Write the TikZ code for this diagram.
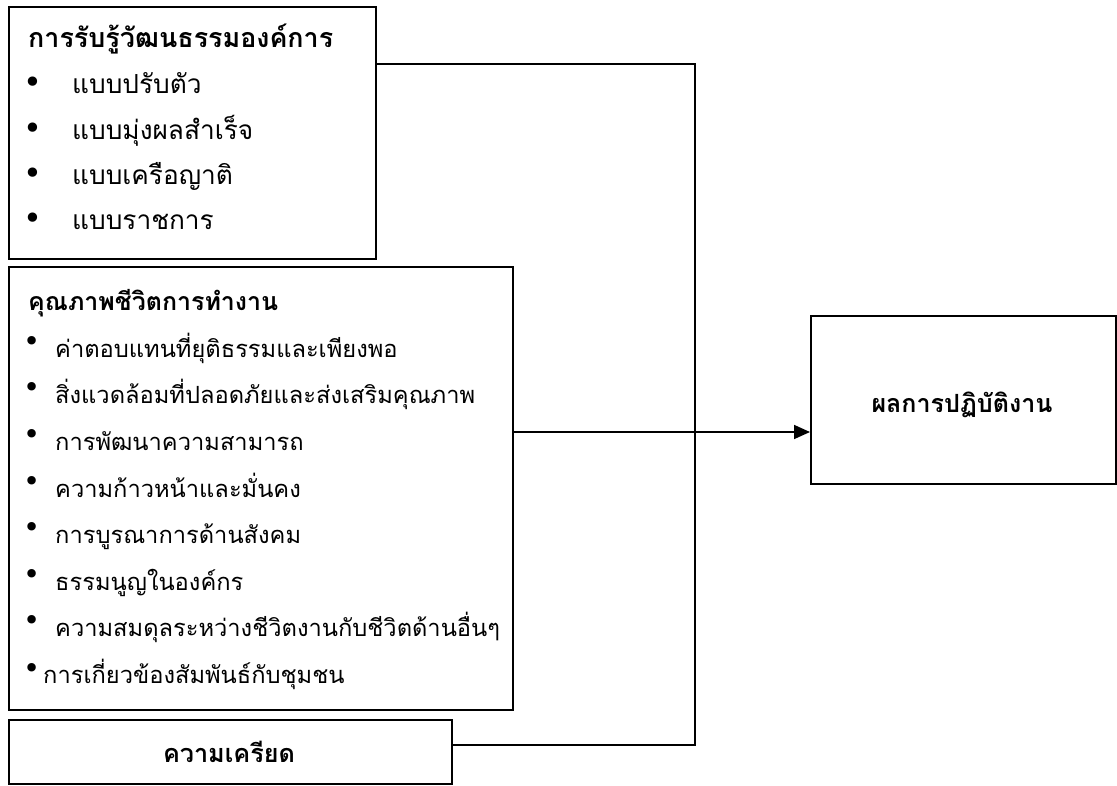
\documentclass[tikz,border=0pt]{standalone}
\usepackage{fontspec}
\setmainfont[Script=Thai]{Loma}
\newfontfamily\bulletfont{DejaVu Sans}
\usetikzlibrary{arrows.meta}
\newlength\mywd
% \fitsize{macro}{font switch}{text}{target width in px}
\newcommand\fitsize[4]{%
  \settowidth\mywd{\fontsize{10}{12}\selectfont#2#3}%
  \pgfmathsetmacro#1{10*#4/\mywd}}
\begin{document}
\fitsize{\szTa}{\bfseries}{การรับรู้วัฒนธรรมองค์การ}{305}%
\fitsize{\szIa}{}{แบบมุ่งผลสำเร็จ}{181}%
\fitsize{\szTb}{\bfseries}{คุณภาพชีวิตการทำงาน}{250}%
\fitsize{\szIb}{}{สิ่งแวดล้อมที่ปลอดภัยและส่งเสริมคุณภาพ}{420}%
\fitsize{\szTc}{\bfseries}{ความเครียด}{132}%
\fitsize{\szTd}{\bfseries}{ผลการปฏิบัติงาน}{181}%
\begin{tikzpicture}[x=1pt,y=-1pt,
  box/.style={draw, line width=1.7pt, rectangle, anchor=north west, inner sep=0pt},
  conn/.style={line width=1.7pt},
  titleA/.style={anchor=base west, inner sep=0pt, font=\fontsize{\szTa}{\szTa}\selectfont\bfseries},
  titleB/.style={anchor=base west, inner sep=0pt, font=\fontsize{\szTb}{\szTb}\selectfont\bfseries},
  titleC/.style={anchor=base, inner sep=0pt, font=\fontsize{\szTc}{\szTc}\selectfont\bfseries},
  titleD/.style={anchor=base, inner sep=0pt, font=\fontsize{\szTd}{\szTd}\selectfont\bfseries},
  itemA/.style={anchor=base west, inner sep=0pt, font=\fontsize{\szIa}{\szIa}\selectfont},
  itemB/.style={anchor=base west, inner sep=0pt, font=\fontsize{\szIb}{\szIb}\selectfont},
  bulA/.style={anchor=center, inner sep=0pt, font=\bulletfont\fontsize{32}{34}\selectfont},
  bulB/.style={anchor=center, inner sep=0pt, font=\bulletfont\fontsize{29}{31}\selectfont}]
\useasboundingbox (0,0) rectangle (1117,785);
% boxes
\node[box, minimum width=367pt, minimum height=252pt] (b1) at (8,6) {};
\node[box, minimum width=504pt, minimum height=443pt] (b2) at (8,266) {};
\node[box, minimum width=443pt, minimum height=64pt] (b3) at (8,719) {};
\node[box, minimum width=305pt, minimum height=168pt] (b4) at (810,315) {};
% box 1 text
\node[titleA] (t1) at (28,47) {การรับรู้วัฒนธรรมองค์การ};
\foreach \y/\t [count=\i] in {93/แบบปรับตัว,139/แบบมุ่งผลสำเร็จ,184/แบบเครือญาติ,229/แบบราชการ}{
  \node[bulA] (p1b\i) at (33,\y-8) {•};
  \node[itemA] (p1t\i) at (72,\y) {\t};
}
% box 2 text
\node[titleB] (t2) at (28,310) {คุณภาพชีวิตการทำงาน};
\foreach \y/\t [count=\i] in {357/ค่าตอบแทนที่ยุติธรรมและเพียงพอ,403/สิ่งแวดล้อมที่ปลอดภัยและส่งเสริมคุณภาพ,450/การพัฒนาความสามารถ,497/ความก้าวหน้าและมั่นคง,543/การบูรณาการด้านสังคม,590/ธรรมนูญในองค์กร,636/ความสมดุลระหว่างชีวิตงานกับชีวิตด้านอื่นๆ}{
  \node[bulB] (p2b\i) at (32,\y-13) {•};
  \node[itemB] (p2t\i) at (55,\y) {\t};
}
\node[bulB] (p2b8) at (32,671) {•};
\node[itemB] (p2t8) at (43,683) {การเกี่ยวข้องสัมพันธ์กับชุมชน};
% box 3 / box 4 text
\node[titleC] (t3) at (229,762) {ความเครียด};
\node[titleD] (t4) at (962,412) {ผลการปฏิบัติงาน};
% connectors
\coordinate (jt) at (695,64);
\coordinate (jm) at (695,432);
\coordinate (jb) at (695,745);
\draw[conn] (b1.east |- jt) -- (jt) -- (jb) -- (b3.east |- jb);
\draw[conn, -{Triangle[length=16pt,width=14pt]}] (b2.east |- jm) -- (b4.west |- jm);
\end{tikzpicture}
\end{document}
